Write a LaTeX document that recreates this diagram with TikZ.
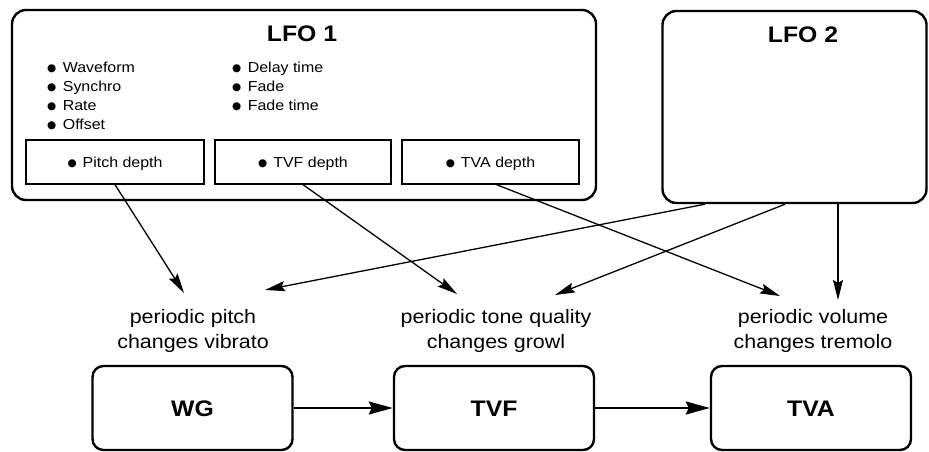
\documentclass[tikz,border=0pt]{standalone}
\usepackage{fontspec}
\setmainfont{Liberation Sans}[FakeStretch=1.1]
\newfontfamily\symf{DejaVu Sans}
\usetikzlibrary{arrows.meta}
\newcommand\bul{\raisebox{0.6pt}{\fontsize{10.5}{11}\symf ●}}
\begin{document}
\begin{tikzpicture}[x=1pt,y=-1pt,
  bigbox/.style={draw, line width=2.4pt, rounded corners=14pt, inner sep=0pt},
  subbox/.style={draw, line width=1.3pt, inner sep=0pt, minimum height=44pt,
    text height=11pt, text depth=1pt, font=\fontsize{14.5}{17}\selectfont},
  blockbox/.style={draw, line width=2.4pt, rounded corners=11pt, minimum width=200pt,
    minimum height=84pt, inner sep=0pt, text height=16.5pt, text depth=0pt,
    font=\fontsize{22.5}{26}\selectfont\bfseries},
  titletext/.style={anchor=base, inner sep=0pt, font=\fontsize{22.5}{26}\selectfont\bfseries},
  itemtext/.style={anchor=base west, inner sep=0pt, font=\fontsize{14.5}{17}\selectfont},
  labtext/.style={align=center, inner sep=0pt, font=\fontsize{19.5}{25}\selectfont},
  arr/.style={line width=1.3pt, -{Stealth[length=20pt,width=10pt,inset=3pt]}},
  blockarr/.style={line width=2.2pt, -{Stealth[length=24pt,width=13pt,inset=3pt]}}
]
\useasboundingbox (0,0) rectangle (929,452);

% LFO boxes
\node[bigbox, minimum width=584pt, minimum height=190pt] (lfo1) at (304,105) {};
\node[bigbox, minimum width=264pt, minimum height=192pt] (lfo2) at (794.5,107) {};
\node[titletext] (t1) at (302,42) {LFO 1};
\node[titletext] (t2) at (803,43) {LFO 2};

% parameter lists
\node[itemtext] (p1) at (47,72.5) {\bul\hspace{6.5pt}Waveform};
\node[itemtext] (p2) at (47,91.5) {\bul\hspace{6.5pt}Synchro};
\node[itemtext] (p3) at (47,110.5) {\bul\hspace{6.5pt}Rate};
\node[itemtext] (p4) at (47,129.5) {\bul\hspace{6.5pt}Offset};
\node[itemtext] (q1) at (232,72.5) {\bul\hspace{6.5pt}Delay time};
\node[itemtext] (q2) at (232,91.5) {\bul\hspace{6.5pt}Fade};
\node[itemtext] (q3) at (232,110.5) {\bul\hspace{6.5pt}Fade time};

% depth boxes
\node[subbox, minimum width=178pt] (pd) at (115,162) {\bul\hspace{6pt}Pitch depth};
\node[subbox, minimum width=176pt] (fd) at (303,162) {\bul\hspace{6pt}TVF depth};
\node[subbox, minimum width=177pt] (ad) at (490.5,162) {\bul\hspace{6pt}TVA depth};

% labels
\node[labtext] (l1) at (193,330.5) {periodic pitch\\changes vibrato};
\node[labtext] (l2) at (496,330.5) {periodic tone quality\\changes growl};
\node[labtext] (l3) at (813,330.5) {periodic volume\\changes tremolo};

% arrow end points above labels
\coordinate (e1) at (184,293);
\coordinate (e4) at (265,290);
\coordinate (e2) at (457,294);
\coordinate (e5) at (555,295);
\coordinate (e3) at (780,296);
\coordinate (e6) at (838,300);

% blocks
\node[blockbox] (wg) at (192.5,408) {WG};
\node[blockbox] (tvf) at (494,408) {TVF};
\node[blockbox] (tva) at (811,408) {TVA};

% connectors
\draw[arr] (pd.south) -- (e1);
\draw[arr] (fd.south) -- (e2);
\draw[arr] ([xshift=6pt]ad.south) -- (e3);
\draw[arr] ([xshift=-89.5pt]lfo2.south) -- (e4);
\draw[arr] ([xshift=-9.5pt]lfo2.south) -- (e5);
\draw[arr] (lfo2.south -| e6) -- (e6);

\draw[blockarr] (wg.east) -- (tvf.west);
\draw[blockarr] (tvf.east) -- (tva.west);
\end{tikzpicture}
\end{document}
